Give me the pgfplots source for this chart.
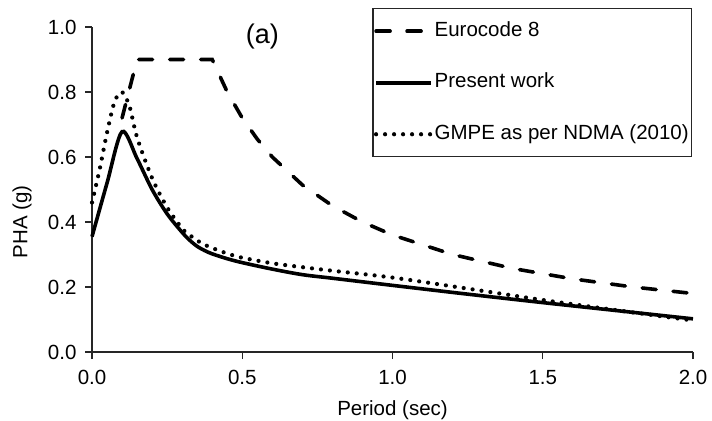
\documentclass[border=0pt]{standalone}
\usepackage{pgfplots}
\pgfplotsset{compat=1.18}
\usepackage{fontspec}
\setmainfont{Liberation Sans}
\newcommand\fs{\fontsize{20.5bp}{24bp}\selectfont}
\begin{document}
\begin{tikzpicture}
\begin{axis}[
  scale only axis,
  width=601bp, height=325bp,
  xmin=0, xmax=2, ymin=0, ymax=1,
  axis lines*=left,
  axis line style={line width=1.2bp, black!85},
  tick style={line width=1.2bp, black!85},
  tick align=outside,
  major tick length=7bp,
  xtick={0,0.5,1,1.5,2},
  ytick={0,0.2,0.4,0.6,0.8,1.0},
  /pgf/number format/assume math mode=true,
  xticklabel style={font=\fs, yshift=-8bp, /pgf/number format/.cd, fixed, fixed zerofill, precision=1},
  yticklabel style={font=\fs, xshift=-5bp, /pgf/number format/.cd, fixed, fixed zerofill, precision=1},
  xlabel={Period (sec)},
  ylabel={PHA (g)},
  label style={font=\fs},
  xlabel style={at={(axis description cs:0.5,-0.178)}, anchor=center},
  ylabel style={at={(axis description cs:-0.1165,0.4)}, anchor=center},
  clip=false,
  legend cell align=left,
  legend style={
    at={(rel axis cs:0.998,1.058)}, anchor=north east,
    draw=black!85, line width=1.2bp,
    font=\fs,
    inner xsep=1bp, inner ysep=11bp,
    row sep=28.5bp,
    nodes={inner sep=1.5bp, text height=15bp, text depth=5bp},
  },
  legend image code/.code={\draw[#1] (0bp,0bp) -- (55bp,0bp);},
]
\addplot[black, line width=3.6bp, line cap=round, dash pattern=on 14bp off 17bp] coordinates {
(0.1,0.72) (0.15,0.9) (0.4,0.9) (0.45,0.8) (0.5,0.72) (0.55,0.655) (0.6,0.6)
(0.7,0.514) (0.8,0.45) (0.9,0.40) (1.0,0.36) (1.2,0.30) (1.4,0.257)
(1.6,0.225) (1.8,0.20) (2.0,0.18)};
\addlegendentry{Eurocode 8}
\addplot[black, line width=3.6bp, smooth, tension=0.5] coordinates {
(0,0.355) (0.05,0.52) (0.1,0.678) (0.15,0.595) (0.2,0.50) (0.25,0.425)
(0.3,0.368) (0.325,0.344) (0.35,0.325) (0.375,0.312) (0.4,0.302) (0.45,0.287)
(0.5,0.275) (0.6,0.255) (0.7,0.238)
(0.8,0.227) (1.0,0.205) (1.25,0.178) (1.5,0.152) (1.75,0.127) (2.0,0.102)};
\addlegendentry{Present work}
\addplot[black, line width=4.2bp, line cap=round, dash pattern=on 0bp off 9bp, smooth, tension=0.5] coordinates {
(0,0.46) (0.025,0.56) (0.05,0.675) (0.075,0.77) (0.1,0.80) (0.125,0.755)
(0.15,0.66) (0.2,0.535) (0.25,0.445) (0.3,0.38) (0.325,0.36) (0.35,0.343)
(0.375,0.33) (0.4,0.32) (0.45,0.303)
(0.5,0.29) (0.6,0.273) (0.7,0.261) (0.8,0.250) (1.0,0.229) (1.25,0.195)
(1.5,0.16) (1.75,0.128) (2.0,0.097)};
\addlegendentry{GMPE as per NDMA (2010)}
\node[font=\fontsize{27bp}{30bp}\selectfont] at (axis cs:0.567,0.972) {(a)};
\coordinate (bl) at (rel axis cs:-0.1531,-0.2123);
\coordinate (tr) at (rel axis cs:1.0316,1.0831);
\end{axis}
\pgfresetboundingbox
\useasboundingbox (bl) rectangle (tr);
\end{tikzpicture}
\end{document}
